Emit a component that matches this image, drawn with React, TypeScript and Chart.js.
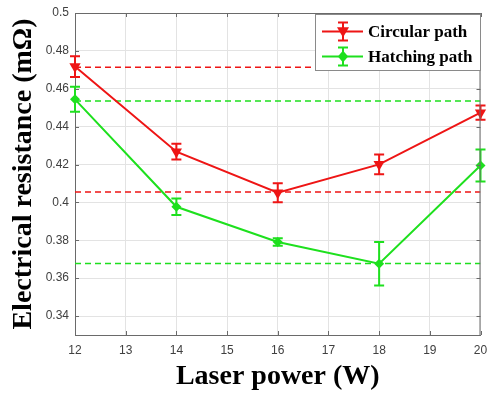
import React, { useEffect, useRef } from "react";
import { Chart, registerables } from "chart.js";

Chart.register(...registerables);

const laserPower = [12, 14, 16, 18, 20];
const circularValues = [0.4717, 0.4268, 0.4051, 0.4201, 0.4474];
const circularErrors = [0.0055, 0.0042, 0.005, 0.0052, 0.0038];
const hatchingValues = [0.4544, 0.3977, 0.3791, 0.3676, 0.4195];
const hatchingErrors = [0.0066, 0.0043, 0.002, 0.0115, 0.0085];
const circularRefLines = [0.4714, 0.4055];
const hatchingRefLines = [0.4535, 0.3677];
const yTicks = [0.34, 0.36, 0.38, 0.4, 0.42, 0.44, 0.46, 0.48, 0.5];
const xTicks = [12, 13, 14, 15, 16, 17, 18, 19, 20];
const seriesLabels = ["Circular path", "Hatching path"];

const RED = "#ee1515";
const GREEN = "#1ee01e";

function drawMarker(ctx: CanvasRenderingContext2D, kind: string, x: number, y: number, r: number, color: string) {
  ctx.save();
  ctx.fillStyle = color;
  ctx.beginPath();
  if (kind === "tri") {
    ctx.moveTo(x - r, y - r * 0.7);
    ctx.lineTo(x + r, y - r * 0.7);
    ctx.lineTo(x, y + r);
  } else {
    ctx.moveTo(x, y - r);
    ctx.lineTo(x + r * 0.85, y);
    ctx.lineTo(x, y + r);
    ctx.lineTo(x - r * 0.85, y);
  }
  ctx.closePath();
  ctx.fill();
  ctx.restore();
}

const errorBarPlugin = {
  id: "errorBars",
  afterDatasetsDraw(chart: any) {
    const { ctx } = chart;
    const xs = chart.scales.x;
    const ys = chart.scales.y;
    const sets = [
      { v: circularValues, e: circularErrors, c: RED },
      { v: hatchingValues, e: hatchingErrors, c: GREEN },
    ];
    ctx.save();
    ctx.lineWidth = 2;
    sets.forEach((s) => {
      ctx.strokeStyle = s.c;
      s.v.forEach((v, i) => {
        const x = xs.getPixelForValue(laserPower[i]);
        const y1 = ys.getPixelForValue(v + s.e[i]);
        const y2 = ys.getPixelForValue(v - s.e[i]);
        ctx.beginPath();
        ctx.moveTo(x, y1);
        ctx.lineTo(x, y2);
        ctx.moveTo(x - 5, y1);
        ctx.lineTo(x + 5, y1);
        ctx.moveTo(x - 5, y2);
        ctx.lineTo(x + 5, y2);
        ctx.stroke();
      });
    });
    ctx.restore();
  },
  afterDraw(chart: any) {
    const { ctx, chartArea: a } = chart;
    const xs = chart.scales.x;
    const ys = chart.scales.y;
    ctx.save();
    ctx.strokeStyle = "#6a6a6a";
    ctx.lineWidth = 1;
    ctx.beginPath();
    ctx.moveTo(a.left, a.top + 0.5);
    ctx.lineTo(a.right, a.top + 0.5);
    ctx.moveTo(a.right - 0.5, a.top);
    ctx.lineTo(a.right - 0.5, a.bottom);
    xTicks.forEach((t) => {
      const x = Math.round(xs.getPixelForValue(t)) + 0.5;
      ctx.moveTo(x, a.bottom);
      ctx.lineTo(x, a.bottom - 4);
      ctx.moveTo(x, a.top);
      ctx.lineTo(x, a.top + 4);
    });
    yTicks.forEach((t) => {
      const y = Math.round(ys.getPixelForValue(t)) + 0.5;
      ctx.moveTo(a.left, y);
      ctx.lineTo(a.left + 4, y);
      ctx.moveTo(a.right, y);
      ctx.lineTo(a.right - 4, y);
    });
    ctx.stroke();

    const lx = 315, ly = 14, lw = 165, lh = 56;
    ctx.fillStyle = "#ffffff";
    ctx.fillRect(lx, ly, lw, lh);
    ctx.strokeStyle = "#8a8a8a";
    ctx.strokeRect(lx + 0.5, ly + 0.5, lw, lh);
    const rows = [
      { y: 31.5, c: RED, k: "tri" },
      { y: 56.5, c: GREEN, k: "dia" },
    ];
    rows.forEach((r, i) => {
      ctx.strokeStyle = r.c;
      ctx.lineWidth = 2;
      ctx.beginPath();
      ctx.moveTo(322, r.y);
      ctx.lineTo(363, r.y);
      ctx.moveTo(343, r.y - 9);
      ctx.lineTo(343, r.y + 9);
      ctx.moveTo(338, r.y - 9);
      ctx.lineTo(348, r.y - 9);
      ctx.moveTo(338, r.y + 9);
      ctx.lineTo(348, r.y + 9);
      ctx.stroke();
      drawMarker(ctx, r.k, 343, r.y, 6, r.c);
      ctx.fillStyle = "#000000";
      ctx.font = "bold 17px 'Liberation Serif', 'Times New Roman', serif";
      ctx.textAlign = "left";
      ctx.textBaseline = "middle";
      ctx.fillText(seriesLabels[i], 368, r.y + 1);
    });
    ctx.restore();
  },
};

export default function App() {
  const ref = useRef<HTMLCanvasElement | null>(null);
  useEffect(() => {
    if (!ref.current) return;
    const refSets: any[] = [];
    circularRefLines.forEach((v) =>
      refSets.push({
        data: [{ x: 12, y: v }, { x: 20, y: v }],
        borderColor: RED,
        borderWidth: 1.5,
        borderDash: [6, 4],
        pointRadius: 0,
        order: 5,
      })
    );
    hatchingRefLines.forEach((v) =>
      refSets.push({
        data: [{ x: 12, y: v }, { x: 20, y: v }],
        borderColor: GREEN,
        borderWidth: 1.5,
        borderDash: [6, 4],
        pointRadius: 0,
        order: 5,
      })
    );
    const chart = new Chart(ref.current, {
      type: "line",
      data: {
        datasets: [
          {
            label: seriesLabels[0],
            data: laserPower.map((x, i) => ({ x, y: circularValues[i] })),
            borderColor: RED,
            backgroundColor: RED,
            borderWidth: 2,
            pointStyle: "triangle",
            rotation: 180,
            pointRadius: 6.5,
            pointBorderWidth: 0,
            order: 0,
            clip: false,
          },
          {
            label: seriesLabels[1],
            data: laserPower.map((x, i) => ({ x, y: hatchingValues[i] })),
            borderColor: GREEN,
            backgroundColor: GREEN,
            borderWidth: 2,
            pointStyle: "rectRot",
            pointRadius: 5,
            pointBorderWidth: 0,
            order: 0,
            clip: false,
          },
          ...refSets,
        ],
      },
      options: {
        animation: false,
        responsive: false,
        layout: { padding: { top: 13, right: 5, left: 0, bottom: 0 } },
        plugins: { legend: { display: false }, tooltip: { enabled: false } },
        scales: {
          x: {
            type: "linear",
            min: 12,
            max: 20,
            afterBuildTicks: (s: any) => {
              s.ticks = xTicks.map((v) => ({ value: v }));
            },
            afterFit: (s: any) => {
              s.height = 59;
              s.paddingLeft = 0;
              s.paddingRight = 0;
            },
            grid: { color: "#e3e3e3", drawTicks: false },
            border: { color: "#6a6a6a", width: 1 },
            ticks: {
              padding: 8,
              maxRotation: 0,
              autoSkip: false,
              color: "#404040",
              font: { family: "'Liberation Sans', Arial, sans-serif", size: 12 },
              callback: (v: any) => String(v),
            },
            title: {
              display: true,
              text: "Laser power (W)",
              color: "#000000",
              padding: { top: 0, bottom: 0 },
              font: { family: "'Liberation Serif', 'Times New Roman', serif", size: 28, weight: "bold" },
            },
          },
          y: {
            min: 0.33,
            max: 0.5,
            afterBuildTicks: (s: any) => {
              s.ticks = yTicks.map((v) => ({ value: v }));
            },
            afterFit: (s: any) => {
              s.width = 75;
              s.paddingTop = 0;
              s.paddingBottom = 0;
            },
            grid: { color: "#e3e3e3", drawTicks: false },
            border: { color: "#6a6a6a", width: 1 },
            ticks: {
              padding: 6,
              autoSkip: false,
              color: "#404040",
              font: { family: "'Liberation Sans', Arial, sans-serif", size: 12 },
              callback: (v: any) => String(Number(Number(v).toFixed(2))),
            },
            title: {
              display: true,
              text: "Electrical resistance (mΩ)",
              color: "#000000",
              padding: { top: 7, bottom: 0 },
              font: { family: "'Liberation Serif', 'Times New Roman', serif", size: 28, weight: "bold" },
            },
          },
        },
      },
      plugins: [errorBarPlugin],
    } as any);
    return () => chart.destroy();
  }, []);
  return (
    <div style={{ position: "absolute", left: 0, top: 0, width: 487, height: 394, background: "#ffffff" }}>
      <canvas ref={ref} width={487} height={394} style={{ width: 487, height: 394 }} />
    </div>
  );
}
